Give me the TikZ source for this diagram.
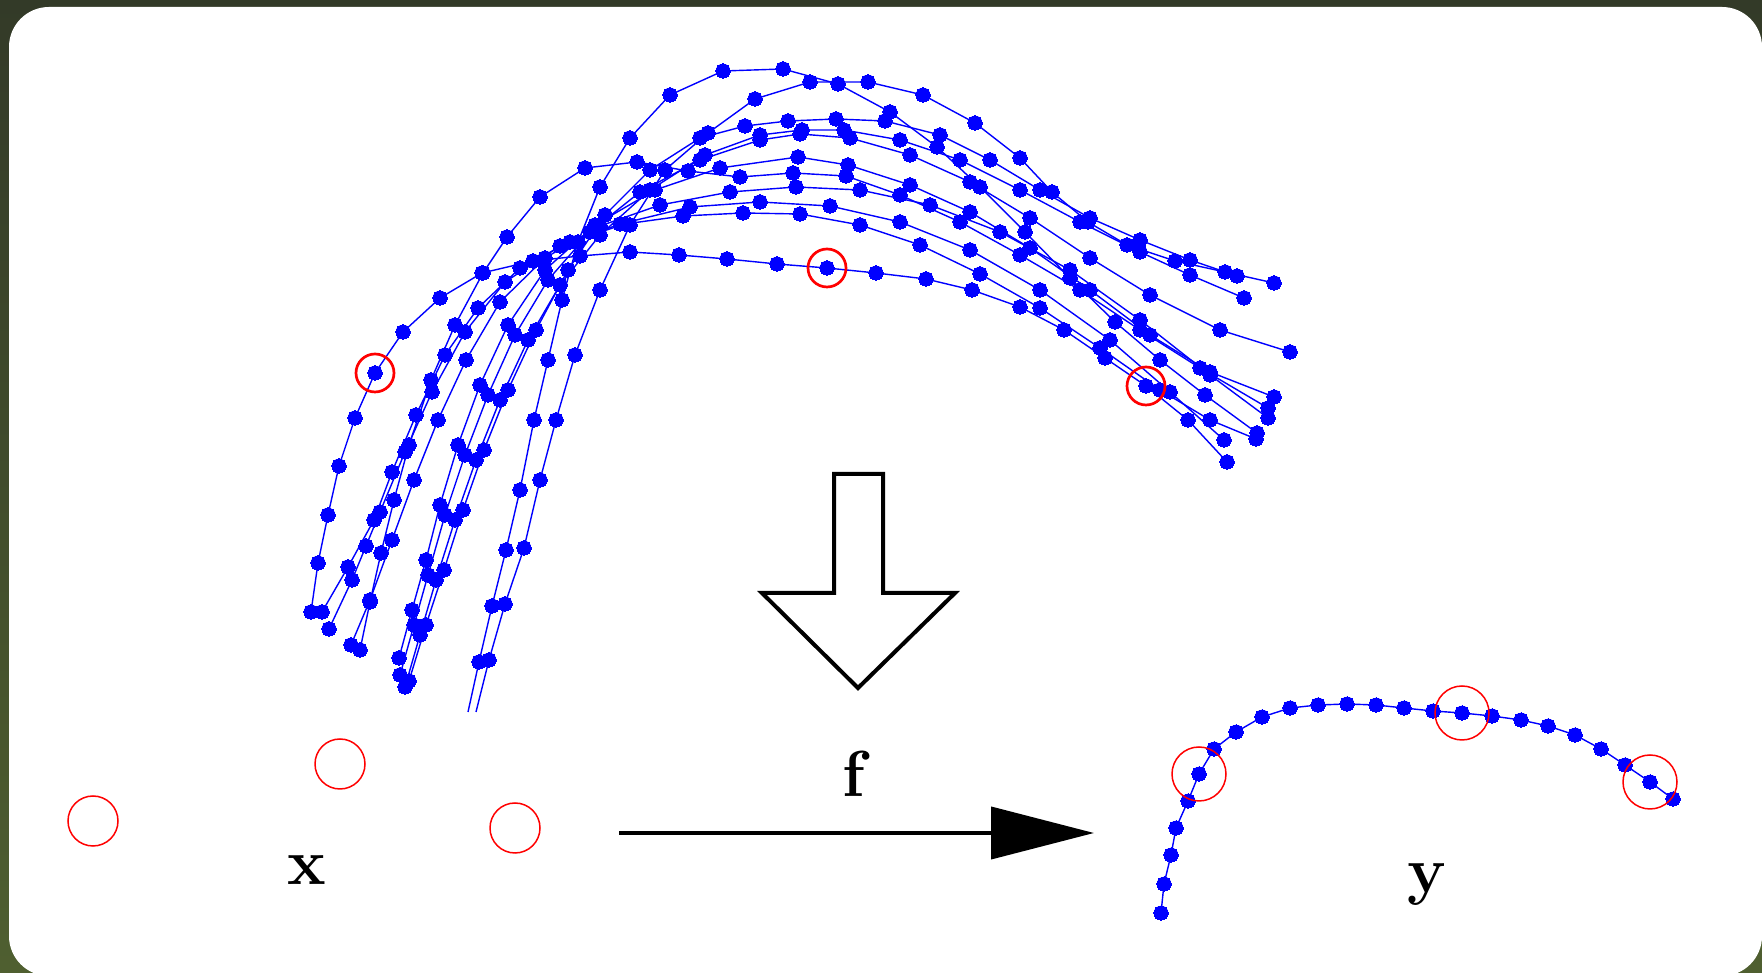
\documentclass[tikz,border=0pt]{standalone}
\usepackage{amsmath,amssymb}
\usepackage{xcolor}
\usepackage{tikz}
\usetikzlibrary{calc,arrows.meta}

\definecolor{bgtop}{RGB}{51,58,40}
\definecolor{bgbot}{RGB}{79,95,48}

\begin{document}
\begin{tikzpicture}[x=0.1mm,y=-0.1mm,
  xline/.style={blue,line width=0.4pt},
  sampled/.style={xline,mark=*,mark size=0.72mm,mark options={fill=blue,draw=blue,line width=0pt}},
  obs/.style={red,line width=0.27mm},
  obsthin/.style={red,line width=0.15mm},
  lbl/.style={inner sep=0pt,anchor=base,font=\fontsize{18.5}{22}\selectfont\bfseries}]
  \useasboundingbox (0,0) rectangle (1762,973);
  \shade[top color=bgtop,bottom color=bgbot] (0,0) rectangle (1762,973);
  \fill[white,rounded corners=4mm] (9,7) rectangle (1762,976);

  % sampled curves
  \draw[sampled] plot coordinates {(322,612) (348,567) (374,520) (392,472) (416,415) (445,355) (478,308) (520,268) (570,242) (625,224) (683,216) (743,213) (800,214) (860,225) (920,245) (980,274) (1040,308) (1100,348) (1160,390) (1210,420) (1256,439)};
  \draw[sampled] plot coordinates {(329,629) (352,580) (366,546) (380,512) (405,452) (432,392) (465,332) (505,282) (560,246) (620,224) (690,207) (760,202) (830,206) (900,222) (970,250) (1040,290) (1110,340) (1170,392) (1224,440)};
  \draw[sampled] plot coordinates {(351,645) (370,600) (392,540) (414,480) (438,420) (466,360) (500,302) (545,258) (600,226) (660,205) (730,192) (796,187) (860,190) (930,205) (1000,232) (1070,270) (1140,320) (1210,375) (1268,418)};
  \draw[sampled] plot coordinates {(360,650) (370,602) (381,553) (394,500) (409,445) (431,380) (455,325) (483,273) (507,237) (540,197) (585,168) (637,162) (688,171) (740,177) (793,173) (846,176) (900,195) (960,222) (1020,255) (1080,290) (1140,330) (1200,368) (1268,408)};
  \draw[sampled] plot coordinates {(399,658) (412,610) (426,560) (440,505) (458,445) (480,385) (508,325) (545,270) (595,225) (655,190) (720,168) (798,157) (848,165) (910,185) (970,212) (1030,248) (1090,290) (1150,335) (1210,372) (1274,397)};
  \draw[sampled] plot coordinates {(400,675) (414,625) (428,575) (445,515) (465,455) (488,395) (515,335) (548,280) (590,232) (640,192) (700,160) (760,140) (800,134) (850,138) (910,155) (970,182) (1030,218) (1090,258) (1150,295) (1220,330) (1290,352)};
  \draw[sampled] plot coordinates {(405,687) (420,635) (436,580) (455,520) (476,460) (500,400) (528,340) (560,285) (600,235) (650,190) (705,155) (760,135) (802,130) (844,130) (900,140) (960,160) (1020,190) (1080,222) (1140,252) (1190,275) (1244,298)};
  \draw[sampled] plot coordinates {(409,681) (426,625) (444,570) (463,510) (484,450) (508,390) (536,330) (568,270) (605,215) (650,170) (700,138) (745,126) (788,121) (836,119) (885,121) (940,135) (990,160) (1040,190) (1090,218) (1140,240) (1190,260) (1237,276)};
  \draw[xline] (476,712) -- (489,660);
  \draw[sampled] plot coordinates {(489,660) (505,604) (524,548) (540,480) (556,420) (575,355) (600,290) (630,225) (665,170) (708,133) (755,99) (810,82) (868,82) (923,95) (975,123) (1020,158) (1052,192) (1088,222) (1127,245) (1175,261) (1225,272) (1274,283)};
  \draw[xline] (468,712) -- (479,662);
  \draw[sampled] plot coordinates {(479,662) (492,606) (506,550) (520,490) (534,420) (548,360) (562,300) (578,242) (600,187) (630,138) (670,95) (723,71) (783,69) (838,84) (890,112) (937,147) (980,187) (1025,232) (1070,278) (1115,322) (1160,360) (1205,395) (1257,433)};
  \draw[sampled] plot coordinates {(311,612) (318,563) (328,515) (339,466) (355,418) (375,373) (403,332) (440,298) (482,273) (533,261) (580,256) (630,252) (679,255) (727,259) (777,264) (827,268) (876,273) (926,279) (972,290) (1020,307) (1064,330) (1105,358) (1146,386) (1188,420) (1227,462)};
  \draw[obs] (375,373) circle (1.9mm);
  \draw[obs] (827,268) circle (1.9mm);
  \draw[obs] (1146,386) circle (1.9mm);

  % inputs
  \draw[obsthin] (93,821) circle (2.5mm);
  \draw[obsthin] (340,764) circle (2.5mm);
  \draw[obsthin] (515,828) circle (2.5mm);
  \node[lbl] (xlab) at (307,885) {x};

  % outputs
  \draw[sampled] plot coordinates {(1161,913) (1164,884) (1171,855) (1176,828) (1188,801) (1199,774) (1214,749) (1236,732) (1262,717) (1290,708) (1318,705) (1347,704) (1376,705) (1404,708) (1433,711) (1462,713) (1492,716) (1521,720) (1548,726) (1575,735) (1601,749) (1625,765) (1650,782) (1673,799)};
  \draw[obsthin] (1199,774) circle (2.7mm);
  \draw[obsthin] (1462,713) circle (2.7mm);
  \draw[obsthin] (1650,782) circle (2.7mm);
  \node[lbl] (ylab) at (1427,893) {y};

  % map
  \draw[line width=0.4mm,fill=white] (834,474) -- (883,474) -- (883,593) -- (955,593) -- (858,688) -- (762,593) -- (834,593) -- cycle;
  \node[lbl] (flab) at (854,797) {f};
  \coordinate (fstart) at (619,833);
  \coordinate (fend) at (1094,833);
  \draw[line width=0.4mm,-{Triangle[length=10.3mm,width=5.2mm]}] (fstart) -- (fend);
\end{tikzpicture}
\end{document}
